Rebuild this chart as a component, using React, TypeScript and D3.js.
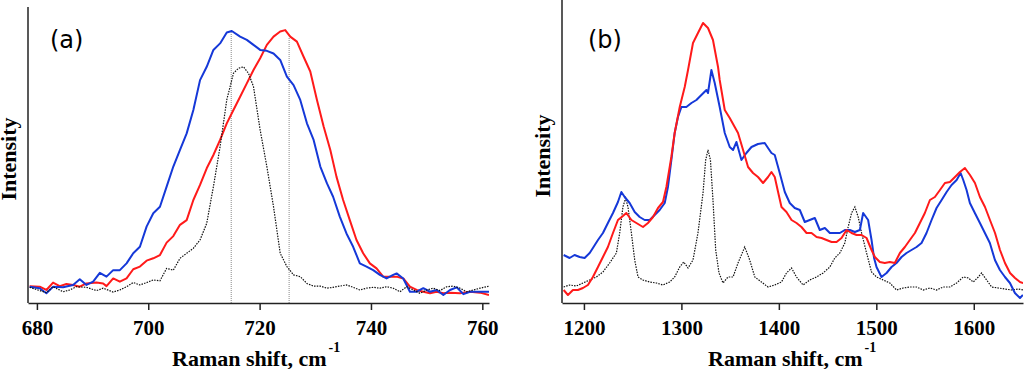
import React, { useEffect, useRef } from "react";
import * as d3 from "d3";

// panel (a): Raman shift (cm-1), intensity (a.u., 0-100)
const blueA: [number, number][] = [
  [678.7, 5.5], [680.5, 5.0], [681.7, 3.3], [682.9, 5.5], [684.7, 5.3], [686.5, 6.1], [687.7, 8.0],
  [688.9, 6.1], [690.1, 7.2], [691.3, 10.2], [692.5, 8.9], [693.7, 11.1], [694.9, 11.1], [696.1, 13.4],
  [697.3, 16.8], [698.5, 19.0], [699.7, 25.8], [700.9, 30.3], [702.1, 32.5], [703.3, 39.3], [704.5, 46.1],
  [705.7, 51.7], [706.9, 57.3], [708.1, 65.2], [709.3, 75.3], [710.5, 79.8], [711.7, 85.5], [712.9, 87.7],
  [714.1, 91.4], [715.0, 91.9], [716.5, 90.0], [717.7, 88.9], [718.9, 87.2], [720.1, 85.5], [721.3, 85.2],
  [722.5, 84.3], [723.7, 82.1], [724.9, 76.5], [726.1, 73.6], [727.3, 68.6], [728.5, 60.7], [729.7, 55.1],
  [730.9, 46.1], [732.1, 40.4], [733.2, 35.9], [734.4, 29.2], [735.6, 23.5], [736.8, 19.0], [738.0, 13.4],
  [739.2, 12.3], [740.4, 11.1], [741.6, 9.5], [742.8, 8.3], [744.0, 9.5], [744.6, 10.0], [745.8, 8.3],
  [747.0, 3.8], [748.2, 3.8], [749.4, 5.0], [750.6, 3.8], [751.8, 4.4], [753.0, 2.7], [754.2, 4.4],
  [755.4, 5.3], [756.6, 3.0], [757.8, 3.8], [759.6, 3.8], [761.2, 3.8],
];
const redA: [number, number][] = [
  [678.7, 5.7], [680.5, 5.5], [681.7, 4.4], [682.9, 6.9], [684.1, 5.7], [685.3, 6.4], [686.5, 6.1],
  [687.7, 5.5], [688.9, 6.6], [690.7, 6.9], [691.9, 6.6], [692.5, 5.7], [693.7, 8.3], [694.9, 7.2],
  [696.1, 8.3], [697.3, 11.4], [698.5, 12.3], [699.7, 14.3], [700.9, 15.1], [702.1, 16.2], [703.3, 20.4],
  [704.5, 22.6], [705.7, 26.4], [706.9, 28.0], [708.1, 34.8], [709.3, 39.9], [710.5, 45.5], [711.7, 50.0],
  [712.9, 55.1], [714.1, 60.7], [715.3, 65.2], [716.5, 69.7], [717.7, 74.2], [718.9, 78.7], [720.1, 82.7],
  [721.3, 87.2], [722.5, 90.0], [723.7, 91.7], [724.6, 92.2], [725.5, 90.0], [726.7, 88.3], [727.9, 83.2],
  [729.1, 78.2], [730.3, 68.6], [731.5, 59.6], [732.7, 51.7], [733.8, 42.7], [735.0, 34.8], [736.2, 28.0],
  [737.4, 21.3], [738.6, 16.8], [739.8, 13.4], [741.0, 11.7], [742.2, 8.9], [743.4, 8.9], [744.6, 8.9],
  [745.8, 8.3], [747.0, 5.5], [748.2, 4.4], [749.4, 3.8], [750.6, 3.3], [751.8, 3.8], [753.0, 3.3],
  [754.2, 3.5], [756.0, 3.3], [757.8, 3.8], [759.6, 3.5], [761.2, 2.7],
];
const dotA: [number, number][] = [
  [678.7, 5.3], [680.5, 4.2], [681.7, 3.5], [682.9, 5.5], [684.7, 3.8], [685.9, 4.4], [687.1, 5.5],
  [688.9, 5.3], [690.7, 4.2], [691.9, 5.0], [693.7, 3.7], [694.9, 4.4], [696.1, 5.5], [697.3, 6.9],
  [698.5, 6.1], [699.7, 6.9], [700.9, 7.8], [702.1, 7.5], [703.3, 11.7], [704.5, 11.1], [705.7, 15.1],
  [706.9, 16.8], [708.1, 18.5], [709.3, 21.3], [710.5, 26.9], [711.7, 39.3], [712.9, 52.8], [714.1, 68.6],
  [715.3, 77.6], [716.2, 79.3], [717.1, 79.8], [718.0, 77.6], [718.9, 73.1], [720.1, 58.4], [721.3, 46.1],
  [722.5, 32.5], [723.7, 16.8], [724.9, 12.3], [726.1, 9.5], [727.3, 8.9], [728.5, 6.6], [729.7, 5.7],
  [730.9, 5.7], [732.1, 5.0], [733.2, 5.3], [734.4, 5.7], [735.6, 6.1], [736.8, 5.3], [738.0, 4.4],
  [739.2, 5.0], [740.4, 5.3], [741.6, 5.0], [742.8, 5.5], [744.0, 5.0], [745.2, 3.8], [746.4, 5.5],
  [747.6, 4.4], [748.8, 3.3], [750.0, 4.4], [751.2, 5.0], [752.4, 4.2], [753.6, 5.5], [754.8, 5.7],
  [756.0, 5.0], [757.2, 3.8], [758.4, 4.4], [759.6, 5.0], [761.2, 5.7],
];
// dotted guides: [shift, top intensity]
const peakLinesA: [number, number][] = [[714.9, 91.5], [725.3, 89.9]];
const ticksA = [680, 700, 720, 740, 760];

// panel (b): Raman shift (cm-1), intensity (a.u., 0-296)
const blueB: [number, number][] = [
  [1179.2, 48], [1185.3, 45], [1190.4, 48], [1195.6, 46], [1200.7, 45], [1205.9, 50], [1209.2, 55],
  [1214.4, 63], [1219.5, 70], [1224.6, 80], [1229.8, 90], [1234.9, 101], [1238.4, 111], [1241.8, 106],
  [1246.9, 100], [1252.1, 91], [1257.2, 86], [1262.3, 83], [1267.5, 83], [1272.6, 88], [1277.7, 93],
  [1282.9, 100], [1286.2, 116], [1289.7, 143], [1293.1, 170], [1296.5, 186], [1300.0, 196], [1305.1, 196],
  [1310.3, 200], [1315.4, 203], [1320.5, 208], [1325.7, 213], [1327.3, 210], [1330.8, 233], [1334.2, 220],
  [1339.3, 196], [1344.5, 170], [1349.6, 156], [1353.0, 153], [1356.5, 161], [1361.6, 143], [1366.7, 150],
  [1371.9, 156], [1378.6, 159], [1385.5, 160], [1388.9, 155], [1392.4, 150], [1395.8, 148], [1400.9, 130],
  [1406.1, 111], [1411.2, 100], [1416.3, 95], [1421.5, 93], [1426.6, 81], [1431.7, 83], [1436.9, 85],
  [1442.0, 73], [1447.2, 75], [1452.3, 70], [1457.4, 70], [1462.6, 70], [1467.7, 73], [1472.8, 73],
  [1478.0, 71], [1483.1, 73], [1486.5, 90], [1491.6, 83], [1495.1, 63], [1497.7, 45], [1500.2, 36],
  [1505.3, 26], [1510.5, 30], [1515.6, 36], [1520.7, 40], [1525.9, 46], [1531.0, 50], [1536.1, 53],
  [1541.3, 56], [1546.4, 60], [1551.5, 70], [1556.7, 83], [1561.8, 95], [1567.0, 103], [1572.1, 111],
  [1577.2, 118], [1582.4, 123], [1586.5, 130], [1589.2, 123], [1592.6, 113], [1596.0, 100], [1601.1, 90],
  [1606.3, 80], [1611.4, 70], [1616.5, 60], [1621.7, 43], [1626.8, 33], [1632.0, 26], [1637.1, 20],
  [1642.2, 10], [1647.4, 5], [1650.4, 8],
];
const redB: [number, number][] = [
  [1179.2, 13], [1183.6, 8], [1188.7, 13], [1193.8, 13], [1199.0, 15], [1204.1, 18], [1209.2, 26],
  [1214.4, 36], [1219.5, 46], [1224.6, 56], [1229.8, 70], [1234.9, 83], [1240.0, 87], [1243.5, 90],
  [1248.7, 83], [1253.8, 80], [1260.6, 76], [1265.7, 80], [1270.9, 86], [1276.0, 95], [1281.1, 101],
  [1284.6, 116], [1289.7, 146], [1293.1, 170], [1298.3, 196], [1303.4, 216], [1306.8, 233], [1311.9, 260],
  [1317.0, 270], [1322.2, 280], [1327.3, 275], [1332.4, 263], [1337.6, 236], [1339.3, 223], [1344.5, 193],
  [1349.6, 185], [1354.7, 176], [1358.1, 170], [1363.3, 153], [1368.4, 136], [1373.5, 130], [1378.6, 126],
  [1383.8, 120], [1388.9, 126], [1392.4, 131], [1395.8, 126], [1399.2, 111], [1402.7, 96], [1407.8, 91],
  [1413.0, 83], [1418.1, 80], [1423.2, 76], [1428.4, 70], [1433.5, 70], [1438.7, 66], [1443.8, 65],
  [1448.9, 63], [1454.1, 61], [1459.2, 61], [1464.3, 65], [1469.5, 73], [1474.6, 70], [1479.7, 68],
  [1484.9, 68], [1490.0, 65], [1495.1, 53], [1498.5, 46], [1503.6, 41], [1508.7, 40], [1513.9, 41],
  [1519.0, 40], [1524.2, 50], [1529.3, 56], [1534.4, 63], [1539.6, 70], [1544.7, 80], [1549.8, 90],
  [1555.0, 103], [1560.1, 106], [1565.3, 113], [1570.4, 120], [1575.5, 121], [1580.7, 126], [1585.8, 131],
  [1590.9, 135], [1596.1, 128], [1601.2, 120], [1606.3, 106], [1611.5, 96], [1616.6, 83], [1621.8, 70],
  [1626.9, 53], [1632.0, 40], [1637.2, 30], [1642.3, 25], [1647.4, 21], [1650.7, 20],
];
const dotB: [number, number][] = [
  [1179.2, 16], [1185.3, 18], [1192.2, 17], [1199.0, 20], [1205.9, 23], [1212.7, 26], [1219.5, 31],
  [1226.4, 40], [1233.3, 50], [1236.7, 70], [1240.0, 96], [1242.8, 105], [1245.2, 96], [1248.7, 70],
  [1252.1, 43], [1255.5, 26], [1260.6, 23], [1267.5, 21], [1274.3, 20], [1281.1, 18], [1288.0, 21],
  [1293.1, 26], [1298.3, 36], [1302.4, 41], [1306.8, 35], [1311.9, 43], [1317.0, 70], [1322.2, 110],
  [1324.9, 143], [1327.3, 153], [1329.8, 143], [1332.4, 103], [1335.2, 53], [1338.6, 30], [1342.7, 20],
  [1347.8, 26], [1353.0, 26], [1358.1, 40], [1365.0, 56], [1370.1, 43], [1375.3, 26], [1382.1, 21],
  [1388.9, 16], [1395.8, 18], [1402.7, 21], [1407.8, 30], [1413.0, 35], [1418.1, 26], [1424.9, 18],
  [1431.7, 23], [1438.6, 26], [1445.4, 30], [1452.3, 36], [1457.4, 45], [1462.6, 50], [1467.7, 60],
  [1471.1, 76], [1474.6, 90], [1478.0, 96], [1481.4, 86], [1484.9, 70], [1490.0, 50], [1495.1, 31],
  [1500.2, 26], [1507.0, 23], [1513.9, 20], [1520.7, 13], [1527.6, 15], [1534.4, 16], [1541.3, 16],
  [1548.1, 13], [1555.0, 15], [1561.8, 13], [1568.7, 16], [1575.5, 16], [1582.4, 20], [1589.2, 26],
  [1594.4, 25], [1599.5, 21], [1604.6, 26], [1608.0, 30], [1613.2, 23], [1618.3, 16], [1625.1, 15],
  [1632.0, 14], [1638.8, 13], [1645.6, 14], [1650.7, 13],
];
const ticksB = [1200, 1300, 1400, 1500, 1600];

const BLUE = "#1538d8";
const RED = "#ff1a1a";
const SERIF = "'Liberation Serif', 'Times New Roman', serif";

export default function App() {
  const svgRef = useRef<SVGSVGElement>(null);

  useEffect(() => {
    const svg = d3.select(svgRef.current);
    svg.selectAll("*").remove();

    const panels = [
      {
        id: "a", label: "(a)", labelX: 50, titleX: 172, yTitleX: 16,
        x: d3.scaleLinear().domain([678.4, 761.2]).range([28, 489]),
        y: d3.scaleLinear().domain([0, 100]).range([303, 7]),
        yTop: 100, ticks: ticksA, blue: blueA, red: redA, dot: dotA,
        order: ["red", "blue", "dot"],
      },
      {
        id: "b", label: "(b)", labelX: 588, titleX: 708, yTitleX: 550,
        x: d3.scaleLinear().domain([1177.5, 1650.5]).range([562, 1023]),
        y: d3.scaleLinear().domain([0, 296]).range([303, 7]),
        yTop: 303, ticks: ticksB, blue: blueB, red: redB, dot: dotB,
        order: ["dot", "blue", "red"],
      },
    ];

    panels.forEach(p => {
      const [x0, x1] = p.x.range();
      const g = svg.append("g");

      g.append("clipPath").attr("id", `clip-${p.id}`)
        .append("rect")
        .attr("x", x0).attr("y", 0)
        .attr("width", x1 - x0).attr("height", p.y(0))

      const plot = g.append("g").attr("clip-path", `url(#clip-${p.id})`)

      // guide lines for panel (a)
      if (p.id === "a") {
        plot.selectAll("line.peak")
          .data(peakLinesA)
          .enter().append("line")
          .attr("class", "peak")
          .attr("x1", d => p.x(d[0])).attr("x2", d => p.x(d[0]))
          .attr("y1", p.y(0)).attr("y2", d => p.y(d[1]))
          .attr("stroke", "#888")
          .attr("stroke-width", 1)
          .attr("stroke-dasharray", "1,1")
      }

      const line = d3.line<[number, number]>()
        .x(d => p.x(d[0]))
        .y(d => p.y(d[1]))

      p.order.forEach(key => {
        const path = plot.append("path")
          .datum((p as any)[key])
          .attr("d", line)
          .attr("fill", "none")
        if (key === "dot") {
          path.attr("stroke", "#111").attr("stroke-width", 1.2).attr("stroke-dasharray", "1.5,1.2")
        } else {
          path.attr("stroke", key === "blue" ? BLUE : RED).attr("stroke-width", 2)
            .attr("stroke-linejoin", "round")
        }
      })

      // axes
      const xAxis = g.append("g")
        .attr("transform", `translate(0, ${p.y(0)})`)
        .call(d3.axisBottom(p.x).tickValues(p.ticks).tickSize(7).tickSizeOuter(0).tickPadding(10).tickFormat(d3.format("d")))
      xAxis.select(".domain").attr("stroke", "#222").attr("stroke-width", 1.5)
      xAxis.selectAll(".tick line").attr("stroke", "#222").attr("stroke-width", 1.5)
      xAxis.selectAll(".tick text")
        .attr("fill", "#000")
        .style("font-family", SERIF)
        .style("font-weight", "bold")
        .style("font-size", "21px")

      g.append("line")
        .attr("x1", x0).attr("x2", x0)
        .attr("y1", p.y(0)).attr("y2", p.y(p.yTop))
        .attr("stroke", "#222").attr("stroke-width", 1.5)

      // labels
      g.append("text")
        .attr("x", p.labelX).attr("y", 48)
        .style("font-family", "'DejaVu Sans', sans-serif")
        .style("font-size", "24px")
        .text(p.label)

      const title = g.append("text")
        .attr("x", p.titleX).attr("y", 366)
        .style("font-family", SERIF)
        .style("font-weight", "bold")
        .style("font-size", "22px")
      title.append("tspan").text("Raman shift, cm")
      title.append("tspan")
        .attr("dx", 2).attr("dy", -14)
        .style("font-size", "14px")
        .text("-1")

      g.append("text")
        .attr("transform", `translate(${p.yTitleX}, ${p.id === "a" ? 159 : 156}) rotate(-90)`)
        .attr("text-anchor", "middle")
        .style("font-family", SERIF)
        .style("font-weight", "bold")
        .style("font-size", "22px")
        .text("Intensity")
    })
  }, [])

  return (
    <svg
      ref={svgRef}
      width={1024}
      height={369}
      style={{ position: "absolute", left: 0, top: 0, display: "block", background: "#fff" }}
    />
  );
}
